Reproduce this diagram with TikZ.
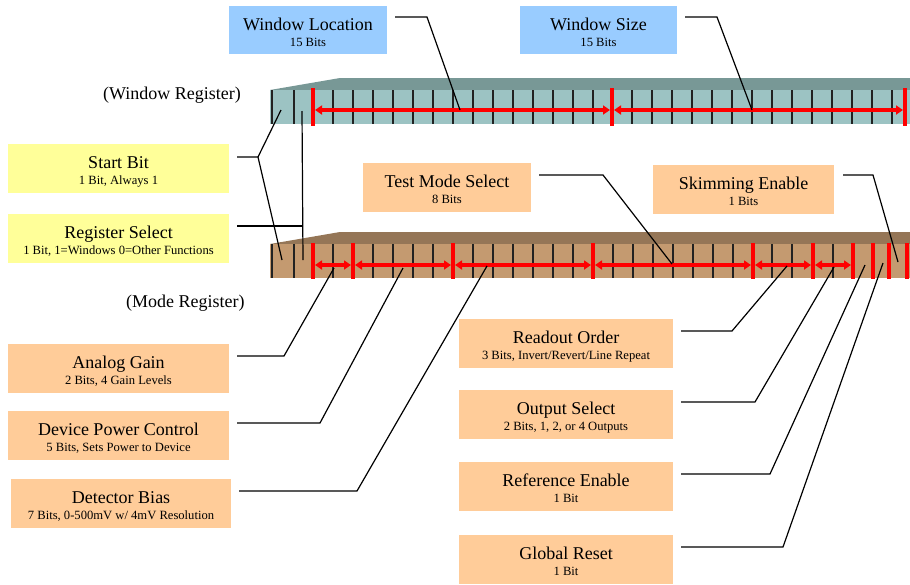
\documentclass[tikz,border=0pt]{standalone}
\usepackage{fontspec}
\setmainfont{Liberation Serif}
\usetikzlibrary{arrows.meta,calc}
\definecolor{winfront}{HTML}{9CC3C3}
\definecolor{wintop}{HTML}{789896}
\definecolor{modefront}{HTML}{C49A70}
\definecolor{modetop}{HTML}{957657}
\definecolor{bluebox}{HTML}{99CCFF}
\definecolor{yelbox}{HTML}{FFFF99}
\definecolor{orbox}{HTML}{FFCC99}
\definecolor{celline}{HTML}{222222}
\newcommand\infobox[8]{%
  \node[fbox, fill=#5, minimum width=#4pt, minimum height=#8pt, anchor=north west] (#1) at (#2,#3) {};
  \node[ttl] (#1-t) at ($(#1.north)+(0,24.2)$) {#6};
  \node[subt] (#1-s) at ($(#1.north)+(0,40)$) {#7};
}
\begin{document}
\begin{tikzpicture}[x=1pt,y=-1pt,
  fbox/.style={draw=none, inner sep=0pt, outer sep=0pt},
  ttl/.style={anchor=base, inner sep=0pt, font=\fontsize{18}{20}\selectfont},
  subt/.style={anchor=base, inner sep=0pt, font=\fontsize{12.6}{14}\selectfont},
  reglbl/.style={anchor=base west, inner sep=0pt, font=\fontsize{18}{20}\selectfont},
  cell/.style={draw=celline, line width=2pt},
  redbar/.style={draw=red, line width=3.8pt},
  rarr/.style={draw=red, line width=3.2pt, {Triangle[length=7pt,width=9pt]}-{Triangle[length=7pt,width=9pt]}},
  conn/.style={draw=black, line width=1.2pt}
]
\useasboundingbox (0,0) rectangle (910,584);
\clip (0,0) rectangle (910,584);

% ---------- Window register ----------
\fill[wintop] (270,90) -- (340,78) -- (912,78) -- (912,90) -- cycle;
\fill[winfront] (270,90) rectangle (912,124);
\foreach \x in {272,294,333,353,373,393,413,433,453,473,493,513,533,553,573,593,
                632,652,672,692,712,732,752,772,792,812,832,852,872,892}
  \draw[cell] (\x,90) -- (\x,124);
\foreach \x in {313,612,905}
  \draw[redbar] (\x,88) -- (\x,126);
\draw[rarr] (315,110) -- (610,110);
\draw[rarr] (614,110) -- (903,110);

% ---------- Mode register ----------
\fill[modetop] (270,244) -- (340,232) -- (912,232) -- (912,244) -- cycle;
\fill[modefront] (270,244) rectangle (912,278);
\foreach \x in {272,294,333,373,393,413,433,473,493,513,533,553,573,
                613,633,653,673,693,713,733,772,792,833}
  \draw[cell] (\x,244) -- (\x,278);
\foreach \x in {313,353,453,593,753,813,853,873,889,907}
  \draw[redbar] (\x,243) -- (\x,279);
\draw[rarr] (315,265) -- (351,265);
\draw[rarr] (355,265) -- (451,265);
\draw[rarr] (455,265) -- (591,265);
\draw[rarr] (595,265) -- (751,265);
\draw[rarr] (755,265) -- (811,265);
\draw[rarr] (815,265) -- (851,265);

% ---------- Register labels ----------
\node[reglbl] (wreg) at (103,99) {(Window Register)};
\node[reglbl] (mreg) at (126,307.5) {(Mode Register)};

% ---------- Boxes ----------
\infobox{wl}{229}{6}{158}{bluebox}{Window Location}{15 Bits}{48}
\infobox{ws}{520}{6}{157}{bluebox}{Window Size}{15 Bits}{48}
\infobox{sb}{8}{144}{221}{yelbox}{Start Bit}{1 Bit, Always 1}{49}
\infobox{rs}{8}{214}{221}{yelbox}{Register Select}{1 Bit, 1=Windows 0=Other Functions}{49}
\infobox{tm}{363}{163}{168}{orbox}{Test Mode Select}{8 Bits}{49}
\infobox{se}{653}{165}{181}{orbox}{Skimming Enable}{1 Bits}{49}
\infobox{ag}{8}{344}{221}{orbox}{Analog Gain}{2 Bits, 4 Gain Levels}{49}
\infobox{dp}{8}{411}{221}{orbox}{Device Power Control}{5 Bits, Sets Power to Device}{49}
\infobox{db}{11}{479}{220}{orbox}{Detector Bias}{7 Bits, 0-500mV w/ 4mV Resolution}{49}
\infobox{ro}{459}{319}{214}{orbox}{Readout Order}{3 Bits, Invert/Revert/Line Repeat}{49}
\infobox{os}{459}{390}{214}{orbox}{Output Select}{2 Bits, 1, 2, or 4 Outputs}{49}
\infobox{re}{459}{462}{214}{orbox}{Reference Enable}{1 Bit}{49}
\infobox{gr}{459}{535}{214}{orbox}{Global Reset}{1 Bit}{49}

% ---------- Connector end points ----------
\coordinate (wsb) at (281,110);
\coordinate (msb) at (282,260);
\coordinate (wrs) at (302,111);
\coordinate (mrs) at (303,260);
\coordinate (rsj) at (302.8,226);
\coordinate (wloc) at (460,110);
\coordinate (wsz) at (752,110);
\coordinate (mag) at (334,268);
\coordinate (mdp) at (403,268);
\coordinate (mdb) at (487,266);
\coordinate (mtm) at (672,264);
\coordinate (mro) at (787,266);
\coordinate (mos) at (834,267);
\coordinate (mre) at (865,265);
\coordinate (mgr) at (883,263);
\coordinate (mse) at (898,262);

% ---------- Connectors ----------
\draw[conn] ($(wl.north east)+(8,11)$) -- ++(32,0) -- (wloc);
\draw[conn] ($(ws.north east)+(8,11)$) -- ++(32,0) -- (wsz);
\draw[conn] ($(sb.north east)+(8,13)$) -- ++(21,0) coordinate (sbj) -- (wsb);
\draw[conn] (sbj) -- (msb);
\draw[conn] ($(rs.north east)+(8,12)$) -- (rsj);
\draw[conn] (wrs) -- (mrs);
\draw[conn] ($(ag.north east)+(8,12)$) -- ++(47,0) -- (mag);
\draw[conn] ($(dp.north east)+(8,12)$) -- ++(83,0) -- (mdp);
\draw[conn] ($(db.north east)+(8,12)$) -- ++(118,0) -- (mdb);
\draw[conn] ($(tm.north east)+(8,12)$) -- ++(64,0) -- (mtm);
\draw[conn] ($(se.north east)+(9,10)$) -- ++(30,0) -- (mse);
\draw[conn] ($(ro.north east)+(8,12)$) -- ++(51,0) -- (mro);
\draw[conn] ($(os.north east)+(8,12)$) -- ++(74,0) -- (mos);
\draw[conn] ($(re.north east)+(8,12)$) -- ++(89,0) -- (mre);
\draw[conn] ($(gr.north east)+(8,12)$) -- ++(102,0) -- (mgr);
\end{tikzpicture}
\end{document}
